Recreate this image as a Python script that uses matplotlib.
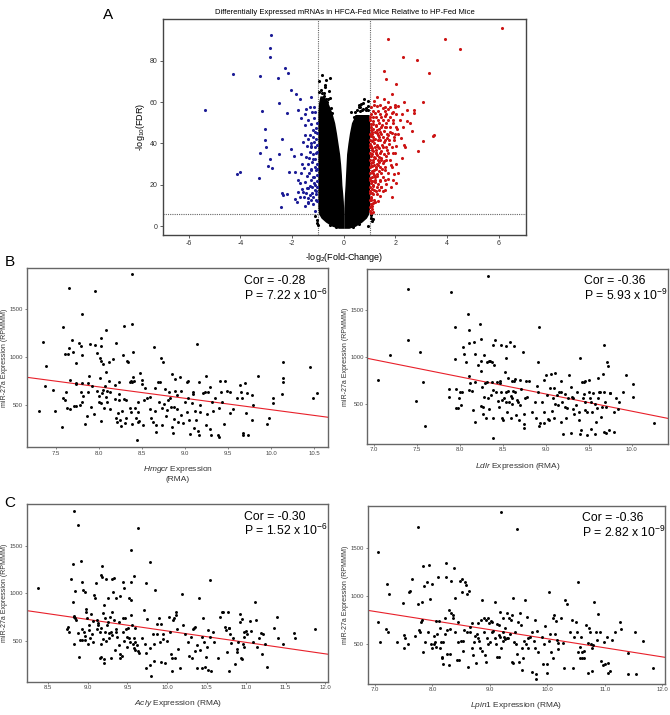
import matplotlib
matplotlib.use('Agg')
import matplotlib.pyplot as plt
import numpy as np

plt.rcParams['font.family'] = ['Liberation Sans', 'DejaVu Sans']
plt.rcParams['mathtext.fontset'] = 'custom'
plt.rcParams['mathtext.rm'] = 'Liberation Sans'
plt.rcParams['mathtext.it'] = 'Liberation Sans:italic'
plt.rcParams['axes.unicode_minus'] = False

# ---- Panel A: volcano plot ----
title_a = 'Differentially Expressed mRNAs in HFCA-Fed Mice Relative to HP-Fed Mice'
fc_cut = 1.0
fdr_cut = 6.0

down_x = [-2.80, -2.87, -2.84, -4.29, -3.23, -2.53, -2.26, -2.15, -5.38, -2.05, -1.85, -1.71,
          -2.51, -2.18, -3.17, -3.04, -3.04, -3.00, -3.25, -2.87, -2.92, -2.77, -2.39, -2.49,
          -2.05, -1.91, -2.12, -1.89, -3.28, -4.14, -4.00, -2.38, -2.34, -2.18, -2.43, -1.10,
          -1.48, -1.37, -1.77, -1.64, -1.51, -1.45, -1.32, -1.25, -1.16, -1.21, -1.38, -1.49,
          -1.51, -1.32, -1.38, -1.19, -1.11, -1.25, -1.12, -1.32, -1.18, -1.45, -1.60, -1.38,
          -1.18, -1.25, -1.08, -1.36, -1.49, -1.25, -1.12, -1.38, -1.58, -1.45, -1.32, -1.19,
          -1.08, -1.28, -1.39, -1.55, -1.70, -1.77, -1.64, -1.77, -1.81, -1.90, -1.19, -1.38,
          -1.05, -1.03, -1.06, -1.04, -1.10, -1.02, -1.07, -1.15, -1.22, -1.13, -1.28, -1.42,
          -1.03, -1.06, -1.12, -1.22, -1.03, -1.15, -1.30, -1.05, -1.18, -1.28, -1.42, -1.04,
          -1.10, -1.24, -1.35, -1.06, -1.15, -1.28, -1.42, -1.05, -1.20, -1.09, -1.26, -1.16,
          -1.03, -1.58, -1.66, -1.54, -1.62, -1.70]
down_y = [92.2, 86.1, 81.6, 73.4, 72.8, 71.8, 76.3, 74.0, 56.0, 65.7, 64.1, 61.7,
          59.5, 54.9, 55.8, 46.8, 41.5, 38.2, 35.5, 32.3, 28.9, 28.0, 42.4, 34.9,
          37.3, 34.0, 26.1, 26.0, 23.4, 25.3, 26.0, 16.0, 15.2, 15.4, 9.1, 7.4,
          9.6, 11.0, 56.0, 52.5, 54.4, 56.8, 57.5, 62.5, 57.5, 55.2, 51.2, 48.7,
          44.0, 44.0, 42.4, 46.4, 45.6, 40.0, 38.4, 36.0, 34.9, 33.6, 30.3, 30.3,
          32.3, 27.9, 27.1, 25.5, 21.5, 22.3, 19.9, 18.3, 16.7, 15.9, 15.1, 14.3,
          12.7, 12.7, 13.5, 14.3, 20.7, 22.3, 25.5, 16.7, 11.9, 13.0, 10.6, 11.9,
          22.0, 30.0, 42.0, 50.0, 55.0, 36.0, 17.0, 24.0, 19.0, 28.5, 39.0, 18.5,
          12.0, 15.5, 17.6, 16.0, 19.0, 21.0, 19.5, 25.0, 24.0, 27.0, 24.5, 27.8,
          32.5, 31.0, 33.0, 35.5, 40.5, 38.2, 38.8, 39.5, 43.2, 47.5, 49.5, 52.5,
          45.0, 40.6, 35.0, 28.2, 18.2, 14.0]

up_x = [6.14, 1.72, 3.90, 4.51, 2.30, 2.85, 3.29, 1.55, 1.63, 2.04, 1.87, 1.54,
        2.32, 3.07, 2.71, 2.73, 2.44, 2.56, 2.65, 3.50, 3.45, 3.07, 2.34, 2.36,
        2.87, 2.27, 2.04, 2.11, 2.04, 1.85, 1.59, 1.91,
        1.18, 1.72, 1.07, 1.27, 1.59, 1.78, 1.98, 2.11,
        1.05, 1.20, 1.40, 1.65, 1.85, 2.04, 2.24,
        1.01, 1.14, 1.33, 1.52, 1.72, 1.91, 2.17, 2.43,
        1.05, 1.23, 1.43, 1.59, 1.78, 2.04, 2.30,
        1.01, 1.10, 1.27, 1.46, 1.69, 1.85, 1.98, 2.11,
        1.01, 1.14, 1.31, 1.40, 1.59, 1.74, 1.95,
        1.01, 1.07, 1.20, 1.33, 1.52, 1.65, 1.85, 2.04,
        1.01, 1.10, 1.23, 1.40, 1.56, 1.72, 1.91,
        1.02, 1.14, 1.31, 1.46, 1.62, 1.78,
        1.01, 1.10, 1.23, 1.40, 1.59, 1.85,
        1.02, 1.14, 1.27, 1.46, 1.72, 1.95,
        1.01, 1.10, 1.20, 1.40, 1.59,
        1.02, 1.14, 1.27, 1.46,
        1.01, 1.10, 1.27,
        1.01, 1.07, 1.17,
        1.02, 1.10, 1.05,
        1.04, 1.12, 1.18, 1.08, 1.16, 1.06, 1.19, 1.09, 1.05, 1.17, 1.06, 1.12,
        1.25, 1.35, 1.28, 1.36, 1.22, 1.31, 1.20, 1.36, 1.30, 1.48, 1.12, 1.26,
        1.44, 1.62, 1.55, 1.68, 1.50, 1.60, 1.52, 1.35, 1.40, 1.66, 1.80, 1.75,
        1.93, 2.20, 2.05, 1.40, 1.30, 1.12, 1.60, 1.90, 1.98, 1.82, 1.70, 1.82,
        1.03, 1.09, 1.15, 1.21, 1.03, 1.11, 1.24, 1.33, 1.04, 1.13, 1.22, 1.30,
        1.45, 1.04, 1.15, 1.28, 1.38, 1.46, 1.03, 1.10, 1.22, 1.33, 1.42, 1.05,
        1.15, 1.26, 1.38, 1.04, 1.13, 1.32, 1.50, 1.07, 1.14, 1.25, 1.04, 1.09,
        1.16, 1.27, 1.40, 1.48, 1.55, 1.62, 1.57, 1.70, 1.48, 1.58, 1.70, 1.18,
        1.02, 1.08, 1.18, 1.36, 1.44, 1.53, 1.62, 1.31, 1.21, 1.12, 1.03, 1.19,
        1.09, 1.24, 1.36, 1.50, 1.65, 1.78, 1.90, 2.00]
up_y = [95.9, 90.3, 90.6, 85.8, 81.7, 80.1, 74.0, 75.0, 71.1, 68.6, 64.0, 61.7,
        60.1, 60.1, 56.4, 54.5, 56.4, 50.0, 46.1, 44.3, 43.7, 41.0, 39.2, 38.1,
        36.3, 32.8, 30.3, 25.5, 21.0, 14.0, 17.5, 22.3,
        60.6, 60.2, 57.7, 57.9, 57.4, 57.7, 57.6, 57.9,
        54.4, 54.6, 54.2, 54.4, 54.5, 54.3, 54.4,
        51.2, 51.0, 51.4, 51.2, 51.1, 51.3, 51.2, 51.0,
        48.0, 48.2, 47.8, 48.1, 48.0, 47.9, 48.1,
        44.8, 44.6, 45.0, 44.8, 44.7, 44.9, 44.8, 44.6,
        41.6, 41.8, 41.5, 41.6, 41.7, 41.5, 41.6,
        38.4, 38.6, 38.3, 38.4, 38.5, 38.3, 38.4, 38.6,
        35.2, 35.0, 35.3, 35.2, 35.1, 35.3, 35.2,
        32.0, 32.2, 31.9, 32.0, 32.1, 31.9,
        28.7, 28.9, 28.6, 28.7, 28.8, 28.6,
        25.5, 25.7, 25.4, 25.5, 25.6, 25.4,
        22.3, 22.1, 22.4, 22.3, 22.2,
        19.1, 19.3, 19.0, 19.1,
        15.9, 16.1, 15.8,
        12.7, 12.9, 12.6,
        9.5, 9.7, 6.3,
        46.5, 43.0, 40.0, 36.8, 33.5, 30.4, 27.0, 24.0, 20.7, 17.5, 14.3, 11.0,
        37.0, 33.4, 30.0, 26.9, 23.8, 20.6, 45.3, 42.9, 46.5, 39.5, 49.6, 53.0,
        52.7, 50.0, 46.0, 37.0, 30.5, 27.0, 24.0, 17.5, 14.8, 42.5, 45.6, 39.8,
        43.2, 42.5, 47.0, 58.7, 62.5, 55.5, 55.8, 50.0, 35.5, 29.6, 22.6, 18.9,
        17.0, 18.2, 20.0, 21.3, 23.5, 26.5, 27.8, 29.4, 29.0, 31.0, 33.0, 34.6,
        33.0, 34.0, 36.3, 39.5, 38.0, 36.6, 39.8, 41.0, 42.2, 44.0, 45.5, 43.5,
        46.8, 48.8, 50.0, 49.2, 52.8, 55.6, 57.2, 13.8, 15.5, 16.8, 10.8, 8.2,
        21.8, 24.5, 22.0, 27.8, 31.6, 34.0, 40.8, 44.0, 49.0, 53.3, 56.5, 58.5,
        53.0, 45.6, 29.5, 31.2, 19.0, 17.0, 20.3, 12.3, 11.5, 6.9, 7.5, 24.8,
        38.0, 35.5, 47.0, 43.0, 47.8, 52.6, 55.0, 58.5]

# outline of the dense non-significant cloud (left and right arms of the "V")
left_arm_y = [-1, 0, 2, 4, 6, 9, 12, 16, 20, 25, 30, 35, 40, 45, 50, 55, 60, 63]
left_arm_outer = [-0.20, -0.45, -0.70, -0.88, -0.97, -1.0, -1.0, -1.0, -1.0, -1.0, -1.0, -1.0,
                  -1.0, -1.0, -1.0, -1.0, -0.97, -0.92]
left_arm_inner = [0.0, 0.0, 0.0, 0.0, 0.0, -0.005, -0.015, -0.04, -0.07, -0.09, -0.12, -0.16,
                  -0.22, -0.28, -0.35, -0.46, -0.62, -0.78]
right_arm_y = [-1, 0, 2, 4, 6, 9, 12, 16, 20, 25, 30, 35, 40, 45, 50, 54]
right_arm_inner = [0.0, 0.0, 0.0, 0.0, 0.0, 0.005, 0.015, 0.03, 0.05, 0.07, 0.09, 0.11, 0.16,
                   0.22, 0.30, 0.45]
right_arm_outer = [0.20, 0.45, 0.70, 0.88, 0.97, 1.0, 1.0, 1.0, 1.0, 1.0, 1.0, 1.0, 1.0, 1.0,
                   1.0, 0.98]

ns_x = [-0.84, -0.54, -0.71, -0.72, -0.67, -0.83, -0.63, -0.88, -0.75, -0.58, -0.50, -0.90,
        -0.80, -0.62, -0.55, 0.79, 0.76, 0.30, 0.62, 0.58, 0.70, 0.48, 0.85, 0.66, 0.92,
        -0.45, 0.38, 0.45, -0.95, 0.95, -0.70, 0.60,
        -0.85, -0.75, -0.95, -0.60, 0.50, 0.62, 0.75, 0.88, 0.95,
        -1.05, 1.04, -1.10, 1.08, -1.03, 1.12, 1.06, -0.98, 0.94, -0.30, 0.35, -0.55, 0.60]
ns_y = [73.2, 71.8, 68.4, 67.3, 61.7, 60.4, 60.1, 66.0, 64.5, 65.5, 57.0, 58.5,
        56.5, 54.0, 62.0, 61.7, 59.6, 55.2, 55.5, 57.5, 56.0, 53.5, 57.0, 59.0, 60.5,
        54.5, 53.0, 55.0, 70.0, 56.0, 70.5, 58.5,
        64.5, 63.0, 65.0, 61.5, 56.0, 57.5, 56.8, 56.0, 58.0,
        3.0, 4.0, 5.0, 2.5, 1.5, 3.5, 5.2, 0.5, 0.0, -0.3, -0.5, 0.8, 1.2]

# ---- Panels B and C: correlation scatters ----
hmgcr_x = [7.30, 7.35, 7.39, 7.38, 7.47, 7.49, 7.57, 7.58, 7.58, 7.61, 7.61, 7.65, 7.64, 7.62, 7.63,
           7.65, 7.67, 7.67, 7.69, 7.70, 7.71, 7.73, 7.73, 7.74, 7.74, 7.77, 7.78, 7.79, 7.80, 7.81,
           7.81, 7.79, 7.80, 7.82, 7.84, 7.86, 7.87, 7.88, 7.89, 7.90, 7.91, 7.92, 7.94, 7.96, 7.96,
           7.98, 7.98, 8.00, 8.00, 8.01, 8.01, 8.02, 8.03, 8.03, 8.03, 8.03, 8.04, 8.05, 8.05, 8.06,
           8.07, 8.08, 8.08, 8.08, 8.09, 8.10, 8.12, 8.12, 8.13, 8.13, 8.17, 8.19, 8.19, 8.20, 8.20,
           8.21, 8.22, 8.23, 8.24, 8.24, 8.25, 8.26, 8.27, 8.28, 8.29, 8.29, 8.31, 8.32, 8.32, 8.33,
           8.34, 8.36, 8.36, 8.37, 8.37, 8.38, 8.38, 8.39, 8.39, 8.40, 8.41, 8.40, 8.42, 8.43, 8.44,
           8.45, 8.45, 8.46, 8.47, 8.48, 8.50, 8.50, 8.51, 8.53, 8.54, 8.56, 8.59, 8.60, 8.61, 8.63,
           8.64, 8.65, 8.65, 8.67, 8.67, 8.69, 8.70, 8.71, 8.72, 8.73, 8.74, 8.75, 8.76, 8.77, 8.78,
           8.79, 8.80, 8.81, 8.83, 8.84, 8.85, 8.85, 8.86, 8.87, 8.87, 8.89, 8.89, 8.91, 8.91, 8.92,
           8.94, 8.95, 8.96, 8.98, 9.00, 9.02, 9.03, 9.04, 9.04, 9.05, 9.06, 9.08, 9.09, 9.10, 9.11,
           9.12, 9.13, 9.14, 9.15, 9.16, 9.16, 9.17, 9.18, 9.21, 9.23, 9.24, 9.25, 9.26, 9.27, 9.29,
           9.29, 9.30, 9.32, 9.33, 9.35, 9.39, 9.40, 9.40, 9.41, 9.42, 9.43, 9.46, 9.47, 9.49, 9.52,
           9.52, 9.56, 9.60, 9.64, 9.65, 9.66, 9.67, 9.68, 9.70, 9.71, 9.72, 9.73, 9.78, 9.79, 9.78,
           9.85, 9.95, 9.98, 10.02, 10.02, 10.14, 10.14, 10.14, 10.13, 10.45, 10.49, 10.53]
hmgcr_mir = [441, 1156, 913, 701, 660, 441, 271, 1316, 576, 552, 1031, 1719, 1031, 636, 469,
             1101, 760, 458, 1177, 1059, 493, 944, 729, 719, 493, 1153, 503, 1122, 736, 1455,
             1024, 639, 538, 601, 302, 392, 642, 729, 809, 1135, 486, 701, 406, 1691, 1128,
             649, 1042, 538, 597, 781, 990, 962, 524, 1205, 1122, 337, 625, 663, 934, 469,
             705, 590, 851, 1288, 535, 649, 753, 955, 642, 458, 983, 712, 563, 1149, 365,
             330, 417, 747, 615, 556, 344, 288, 441, 1021, 566, 1326, 319, 365, 556, 965,
             955, 747, 469, 753, 434, 302, 747, 1344, 1865, 1059, 753, 799, 469, 365, 139,
             330, 538, 434, 337, 833, 764, 719, 295, 556, 684, 573, 462, 590, 365, 330,
             1111, 441, 684, 295, 226, 747, 538, 747, 990, 469, 295, 955, 514, 670, 392,
             451, 552, 636, 573, 486, 823, 271, 215, 486, 358, 771, 649, 608, 462, 330,
             799, 649, 399, 312, 538, 434, 747, 573, 753, 347, 198, 521, 642, 622, 260,
             441, 347, 1135, 233, 191, 747, 503, 434, 625, 642, 295, 809, 406, 642, 691,
             253, 188, 538, 441, 573, 191, 174, 469, 753, 642, 538, 302, 757, 649, 642,
             417, 465, 573, 715, 642, 573, 208, 191, 729, 417, 625, 191, 608, 503, 347,
             809, 302, 365, 573, 528, 955, 781, 740, 615, 903, 580, 625]

ldlr_x = [7.05, 7.19, 7.40, 7.39, 7.49, 7.54, 7.57, 7.59, 7.89, 7.87, 7.87, 7.94, 7.94, 7.95, 7.95,
          7.98, 7.99, 8.00, 8.01, 8.02, 8.04, 8.05, 8.07, 8.09, 8.10, 8.11, 8.11, 8.11, 8.12, 8.14,
          8.15, 8.16, 8.17, 8.18, 8.18, 8.21, 8.23, 8.24, 8.25, 8.25, 8.25, 8.26, 8.27, 8.27, 8.28,
          8.28, 8.29, 8.30, 8.31, 8.32, 8.33, 8.34, 8.33, 8.34, 8.35, 8.36, 8.37, 8.37, 8.38, 8.39,
          8.39, 8.39, 8.40, 8.41, 8.42, 8.43, 8.44, 8.45, 8.46, 8.47, 8.48, 8.48, 8.49, 8.49, 8.50,
          8.51, 8.52, 8.53, 8.53, 8.54, 8.54, 8.55, 8.56, 8.56, 8.57, 8.58, 8.59, 8.59, 8.60, 8.60,
          8.61, 8.62, 8.63, 8.63, 8.64, 8.64, 8.65, 8.66, 8.67, 8.69, 8.70, 8.70, 8.71, 8.73, 8.74,
          8.74, 8.75, 8.76, 8.77, 8.78, 8.80, 8.84, 8.87, 8.89, 8.90, 8.91, 8.91, 8.92, 8.92, 8.93,
          8.95, 8.98, 8.98, 8.98, 9.00, 9.01, 9.02, 9.03, 9.05, 9.06, 9.07, 9.08, 9.09, 9.09, 9.11,
          9.11, 9.13, 9.14, 9.15, 9.17, 9.17, 9.18, 9.19, 9.20, 9.22, 9.22, 9.23, 9.24, 9.26, 9.27,
          9.29, 9.29, 9.30, 9.31, 9.32, 9.33, 9.35, 9.36, 9.38, 9.39, 9.40, 9.40, 9.41, 9.42, 9.43,
          9.44, 9.44, 9.45, 9.46, 9.46, 9.48, 9.48, 9.50, 9.50, 9.51, 9.52, 9.53, 9.54, 9.55, 9.57,
          9.57, 9.58, 9.59, 9.60, 9.61, 9.62, 9.63, 9.64, 9.65, 9.66, 9.67, 9.68, 9.68, 9.69, 9.70,
          9.70, 9.71, 9.72, 9.73, 9.74, 9.75, 9.79, 9.79, 9.81, 9.84, 9.85, 9.90, 9.93, 10.01, 10.01,
          10.26]
ldlr_mir = [754, 1019, 1719, 1175, 532, 1055, 729, 267, 1691, 655, 578, 1313, 977, 659, 454,
            454, 560, 630, 489, 623, 1108, 1033, 942, 1451, 1284, 1150, 797, 648, 719, 638,
            432, 1154, 736, 312, 1033, 913, 1344, 956, 850, 482, 1189, 684, 397, 471, 1019,
            578, 719, 355, 942, 736, 567, 956, 1860, 447, 956, 595, 942, 736, 648, 1125,
            136, 355, 913, 1178, 623, 736, 535, 471, 719, 744, 1125, 623, 542, 348, 330,
            560, 843, 1118, 524, 984, 623, 418, 779, 638, 524, 1154, 584, 348, 744, 560,
            496, 638, 1118, 744, 765, 630, 383, 542, 524, 330, 754, 489, 659, 1048, 390,
            284, 242, 560, 744, 578, 744, 418, 524, 355, 691, 630, 942, 1316, 270, 295,
            524, 418, 754, 295, 807, 595, 337, 330, 666, 814, 425, 560, 355, 666, 825,
            496, 595, 489, 623, 630, 312, 744, 517, 178, 471, 602, 348, 454, 560, 807,
            684, 189, 578, 447, 567, 390, 489, 630, 330, 418, 984, 182, 224, 736, 560,
            602, 736, 524, 744, 436, 411, 171, 751, 623, 560, 235, 517, 418, 613, 496,
            178, 312, 454, 772, 560, 630, 630, 365, 471, 814, 207, 1125, 630, 524, 471,
            189, 942, 903, 224, 616, 613, 418, 199, 560, 443, 524, 623, 807, 708, 578,
            298]

acly_x = [8.37, 8.75, 8.74, 8.76, 8.79, 8.81, 8.81, 8.82, 8.82, 8.83, 8.83, 8.84, 8.84, 8.85, 8.88,
          8.88, 8.89, 8.90, 8.91, 8.92, 8.93, 8.93, 8.94, 8.95, 8.96, 8.96, 8.97, 8.98, 8.98, 8.99,
          9.00, 9.01, 9.02, 9.03, 9.04, 9.05, 9.06, 9.07, 9.08, 9.09, 9.10, 9.11, 9.12, 9.13, 9.13,
          9.15, 9.15, 9.16, 9.17, 9.17, 9.17, 9.18, 9.18, 9.19, 9.19, 9.20, 9.20, 9.21, 9.22, 9.22,
          9.23, 9.23, 9.24, 9.25, 9.26, 9.27, 9.27, 9.28, 9.29, 9.29, 9.30, 9.31, 9.31, 9.32, 9.33,
          9.33, 9.34, 9.35, 9.36, 9.36, 9.37, 9.39, 9.39, 9.40, 9.41, 9.41, 9.43, 9.44, 9.44, 9.45,
          9.46, 9.46, 9.47, 9.48, 9.49, 9.50, 9.51, 9.52, 9.52, 9.53, 9.54, 9.55, 9.55, 9.55, 9.56,
          9.57, 9.58, 9.58, 9.58, 9.59, 9.60, 9.60, 9.62, 9.63, 9.64, 9.65, 9.69, 9.71, 9.72, 9.74,
          9.74, 9.75, 9.74, 9.78, 9.79, 9.79, 9.80, 9.82, 9.84, 9.84, 9.85, 9.87, 9.88, 9.90, 9.91,
          9.92, 9.93, 9.95, 9.95, 9.97, 10.00, 10.02, 10.04, 10.05, 10.06, 10.07, 10.08, 10.09, 10.10, 10.11,
          10.12, 10.13, 10.14, 10.17, 10.19, 10.20, 10.23, 10.27, 10.28, 10.31, 10.32, 10.33, 10.34, 10.35, 10.36,
          10.38, 10.38, 10.41, 10.42, 10.44, 10.44, 10.46, 10.47, 10.48, 10.49, 10.50, 10.52, 10.52, 10.54, 10.54,
          10.56, 10.58, 10.59, 10.65, 10.67, 10.69, 10.71, 10.73, 10.75, 10.76, 10.77, 10.78, 10.78, 10.79, 10.80,
          10.81, 10.84, 10.86, 10.88, 10.89, 10.90, 10.92, 10.92, 10.93, 10.95, 10.95, 10.96, 10.97, 10.97, 10.98,
          11.00, 11.01, 11.05, 11.06, 11.09, 11.11, 11.13, 11.14, 11.17, 11.19, 11.20, 11.22, 11.24, 11.26, 11.35,
          11.39, 11.40, 11.47, 11.60, 11.62, 11.87]
acly_mir = [1060, 648, 620, 590, 1151, 1313, 912, 764, 754, 1870, 461, 1025, 736, 718, 1722,
            577, 327, 507, 1342, 623, 1123, 507, 1035, 595, 553, 1018, 507, 834, 806, 743,
            461, 666, 613, 525, 778, 567, 490, 708, 982, 954, 1106, 623, 718, 687, 666,
            588, 320, 461, 324, 1194, 630, 1285, 1176, 789, 518, 877, 306, 261, 736, 595,
            1148, 497, 666, 701, 954, 585, 525, 754, 313, 595, 560, 1151, 799, 1018, 1158,
            718, 401, 954, 623, 595, 542, 454, 701, 972, 313, 359, 342, 595, 1116, 743,
            1053, 497, 736, 623, 542, 437, 637, 947, 525, 490, 930, 1458, 771, 1116, 666,
            461, 1187, 419, 525, 637, 490, 401, 454, 1694, 391, 366, 532, 824, 461, 1106,
            215, 729, 366, 1327, 243, 419, 130, 567, 461, 289, 1032, 567, 673, 736, 490,
            278, 673, 567, 518, 261, 497, 754, 595, 356, 313, 183, 718, 736, 313, 771,
            806, 623, 412, 215, 989, 666, 567, 490, 342, 542, 313, 623, 630, 648, 394,
            454, 215, 947, 401, 542, 208, 736, 490, 226, 331, 437, 190, 613, 542, 1137,
            183, 595, 490, 313, 754, 799, 799, 648, 613, 384, 806, 637, 180, 630, 567,
            472, 525, 250, 412, 377, 490, 701, 778, 313, 729, 306, 461, 588, 542, 437,
            606, 567, 708, 602, 490, 905, 718, 437, 525, 577, 356, 567, 461, 226, 630,
            754, 525, 461, 577, 532, 623]

lpin1_x = [7.06, 7.06, 7.09, 7.20, 7.21, 7.23, 7.24, 7.38, 7.48, 7.50, 7.51, 7.52, 7.57, 7.59, 7.61,
           7.65, 7.70, 7.74, 7.74, 7.77, 7.79, 7.80, 7.81, 7.82, 7.83, 7.84, 7.86, 7.87, 7.90, 7.92,
           7.94, 7.95, 7.97, 7.99, 8.00, 8.02, 8.03, 8.04, 8.06, 8.07, 8.08, 8.10, 8.11, 8.13, 8.14,
           8.15, 8.16, 8.17, 8.18, 8.19, 8.21, 8.22, 8.23, 8.24, 8.25, 8.26, 8.28, 8.29, 8.31, 8.31,
           8.32, 8.33, 8.35, 8.36, 8.38, 8.39, 8.40, 8.42, 8.44, 8.45, 8.46, 8.48, 8.50, 8.51, 8.52,
           8.53, 8.54, 8.55, 8.57, 8.58, 8.60, 8.61, 8.62, 8.64, 8.65, 8.66, 8.68, 8.69, 8.71, 8.73,
           8.74, 8.75, 8.77, 8.79, 8.80, 8.81, 8.83, 8.84, 8.86, 8.87, 8.89, 8.90, 8.91, 8.93, 8.94,
           8.95, 8.96, 8.97, 8.98, 9.00, 9.02, 9.03, 9.04, 9.06, 9.08, 9.09, 9.11, 9.12, 9.13, 9.15,
           9.16, 9.16, 9.18, 9.18, 9.19, 9.20, 9.22, 9.22, 9.23, 9.24, 9.26, 9.27, 9.29, 9.30, 9.32,
           9.33, 9.35, 9.36, 9.38, 9.39, 9.40, 9.41, 9.42, 9.44, 9.45, 9.47, 9.48, 9.49, 9.51, 9.52,
           9.54, 9.55, 9.56, 9.58, 9.59, 9.61, 9.62, 9.64, 9.66, 9.67, 9.70, 9.73, 9.74, 9.76, 9.78,
           9.78, 9.80, 9.80, 9.82, 9.84, 9.90, 9.93, 9.95, 9.96, 9.99, 10.00, 10.02, 10.03, 10.05, 10.06,
           10.09, 10.10, 10.12, 10.13, 10.15, 10.16, 10.18, 10.19, 10.24, 10.28, 10.29, 10.31, 10.35, 10.39, 10.43,
           10.45, 10.47, 10.49, 10.51, 10.53, 10.54, 10.56, 10.57, 10.58, 10.60, 10.61, 10.63, 10.64, 10.67, 10.70,
           10.71, 10.72, 10.74, 10.76, 10.77, 10.78, 10.80, 10.82, 10.85, 10.86, 10.89, 10.92, 10.93, 10.97, 10.99,
           11.00, 11.03, 11.05, 11.06, 11.09, 11.13, 11.18, 11.26, 11.28, 11.40, 11.41, 11.52, 11.55, 11.67, 11.84]
lpin1_mir = [1459, 728, 521, 659, 1121, 631, 1017, 528, 924, 597, 466, 562, 500, 1038, 1052,
             1176, 590, 1717, 914, 648, 631, 728, 752, 941, 1314, 424, 1107, 528, 1148, 631,
             1321, 969, 500, 1121, 466, 500, 590, 528, 741, 469, 603, 1200, 741, 666, 466,
             521, 372, 355, 297, 528, 769, 603, 1345, 1200, 648, 397, 286, 852, 659, 400,
             1155, 821, 803, 769, 1286, 631, 983, 338, 734, 528, 338, 1155, 535, 1038, 1176,
             431, 535, 648, 1148, 1114, 631, 1017, 269, 1052, 683, 631, 459, 717, 390, 528,
             590, 303, 603, 717, 562, 535, 466, 752, 431, 959, 776, 631, 390, 752, 321,
             562, 769, 500, 717, 521, 741, 631, 728, 638, 569, 941, 500, 372, 707, 700,
             597, 372, 838, 579, 1872, 466, 631, 535, 769, 579, 555, 672, 562, 821, 569,
             776, 603, 752, 803, 314, 983, 303, 528, 631, 500, 397, 1693, 728, 314, 821,
             700, 235, 466, 355, 535, 959, 500, 786, 466, 569, 579, 217, 631, 535, 752,
             466, 190, 141, 638, 424, 579, 293, 500, 693, 293, 200, 1045, 535, 603, 417,
             355, 769, 803, 603, 741, 545, 452, 510, 769, 510, 259, 959, 914, 631, 752,
             259, 579, 734, 631, 1141, 424, 355, 476, 579, 355, 424, 362, 431, 700, 200,
             510, 666, 631, 500, 459, 224, 493, 941, 631, 545, 810, 624, 328, 286, 528,
             293, 579, 200, 303, 224, 545, 631, 734, 659, 407, 190, 631, 190, 535, 252]

# per panel: x values, y values, x label, x ticks, x limits, y limits,
# regression slope and intercept, correlation and p-value text
panels = [
    (hmgcr_x, hmgcr_mir, r'$\mathit{Hmgcr}$ Expression' + '\n(RMA)',
     [7.5, 8.0, 8.5, 9.0, 9.5, 10.0, 10.5], (7.163, 10.666), (62, 1927), -119.0, 1644.0,
     'Cor = -0.28', r'P = 7.22 x 10$^{-6}$'),
    (ldlr_x, ldlr_mir, r'$\mathit{Ldlr}$ Expression (RMA)',
     [7.0, 7.5, 8.0, 8.5, 9.0, 9.5, 10.0], (6.922, 10.42), (79, 1931), -182.1, 2245.0,
     'Cor = -0.36', r'P = 5.93 x 10$^{-9}$'),
    (acly_x, acly_mir, r'$\mathit{Acly}$ Expression (RMA)',
     [8.5, 9.0, 9.5, 10.0, 10.5, 11.0, 11.5, 12.0], (8.227, 12.04), (67, 1940), -120.9, 1812.0,
     'Cor = -0.30', r'P = 1.52 x 10$^{-6}$'),
    (lpin1_x, lpin1_mir, r'$\mathit{Lpin1}$ Expression (RMA)',
     [7.0, 8.0, 9.0, 10.0, 11.0, 12.0], (6.873, 12.047), (93, 1931), -93.9, 1497.0,
     'Cor = -0.36', r'P = 2.82 x 10$^{-9}$'),
]

fig = plt.figure(figsize=(6.7, 7.15), dpi=100)

# volcano
ax = fig.add_axes([0.243, 0.672, 0.542, 0.301])
ax.axvline(-fc_cut, color='#666666', lw=0.8, ls=(0, (1, 1)), zorder=0.5)
ax.axvline(fc_cut, color='#666666', lw=0.8, ls=(0, (1, 1)), zorder=0.5)
ax.axhline(fdr_cut, color='#666666', lw=0.8, ls=(0, (1, 1)), zorder=0.5)
ax.fill_betweenx(left_arm_y, left_arm_outer, left_arm_inner, color='black', lw=0, zorder=1)
ax.fill_betweenx(right_arm_y, right_arm_inner, right_arm_outer, color='black', lw=0, zorder=1)
ax.scatter(ns_x, ns_y, s=5, c='black', linewidths=0, zorder=2)
ax.scatter(down_x, down_y, s=5, c='#1c1c96', linewidths=0, zorder=2)
ax.scatter(up_x, up_y, s=5, c='#cc1414', linewidths=0, zorder=2)
ax.set_xlim(-7, 7.05)
ax.set_ylim(-4, 100)
ax.set_xticks([-6, -4, -2, 0, 2, 4, 6])
ax.set_yticks([0, 20, 40, 60, 80])
ax.set_title(title_a, fontsize=5.5, pad=4)
ax.set_xlabel(r'-log$_2$(Fold-Change)', fontsize=6.5, labelpad=3)
ax.set_ylabel(r'-log$_{10}$(FDR)', fontsize=6.5, labelpad=2)
ax.tick_params(labelsize=5, length=2, width=0.6, color='#444444', labelcolor='#333333', pad=2)
for sp in ax.spines.values():
    sp.set_color('#444444')
    sp.set_linewidth(1.0)

positions = [[0.0399, 0.3744, 0.4501, 0.2503],
             [0.5482, 0.3794, 0.4488, 0.2443],
             [0.0399, 0.0466, 0.4501, 0.2481],
             [0.5488, 0.0438, 0.4437, 0.2485]]

for pos, (xs, ys, xlab, xt, xl, yl, m, b, cor, ptxt) in zip(positions, panels):
    ax = fig.add_axes(pos)
    ax.scatter(xs, ys, s=4.5, c='black', linewidths=0, zorder=3)
    ax.axline((0, b), slope=m, color='#e8202a', lw=0.8, zorder=2)
    ax.set_xlim(*xl)
    ax.set_ylim(*yl)
    ax.set_xticks(xt)
    ax.set_xticklabels(['%.1f' % v for v in xt])
    ax.set_yticks([500, 1000, 1500])
    ax.tick_params(labelsize=4.3, length=1.5, width=0.5, color='#555555', labelcolor='#444444', pad=1)
    ax.set_ylabel('miR-27a Expression (RPMMM)', fontsize=5, labelpad=1, color='#333333')
    ax.set_xlabel(xlab, fontsize=6, labelpad=6, color='#333333')
    for sp in ax.spines.values():
        sp.set_color('#666666')
        sp.set_linewidth(1.0)
    ax.text(0.72, 0.93, cor, transform=ax.transAxes, fontsize=8.8, va='center', ha='left')
    ax.text(0.72, 0.85, ptxt, transform=ax.transAxes, fontsize=8.8, va='center', ha='left')

fig.text(0.161, 0.979, 'A', fontsize=11, ha='center', va='center')
fig.text(0.015, 0.634, 'B', fontsize=11, ha='center', va='center')
fig.text(0.015, 0.2965, 'C', fontsize=11, ha='center', va='center')

fig.savefig('out.png', dpi=100)
